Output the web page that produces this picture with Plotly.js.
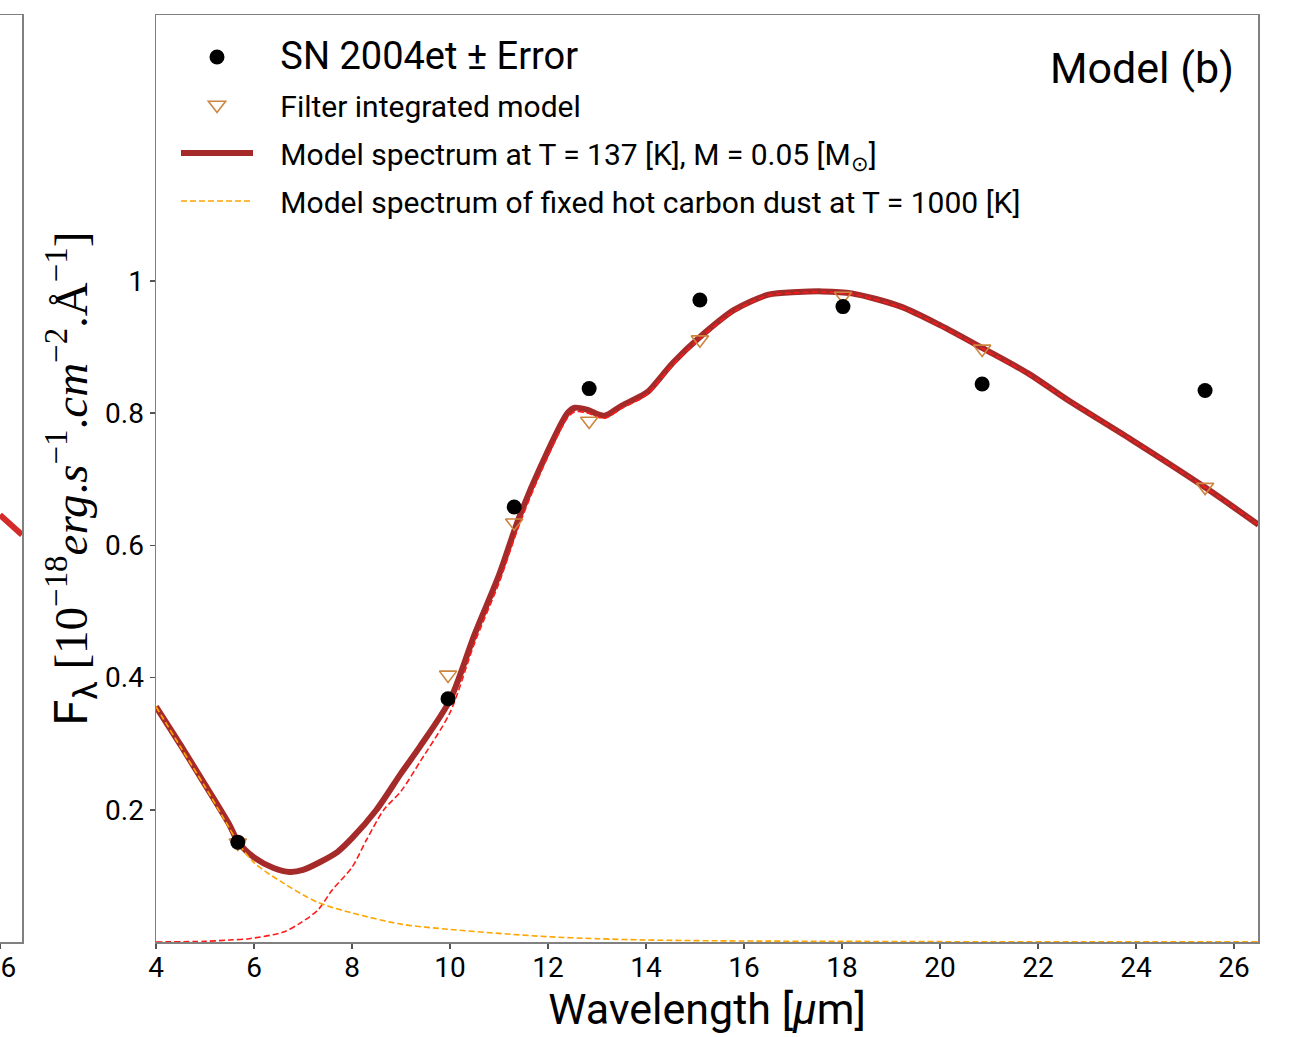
<!DOCTYPE html>
<html><head><meta charset="utf-8">
<script src="https://cdn.plot.ly/plotly-3.0.1.min.js"></script>
<style>html,body{margin:0;padding:0;background:#fff}</style>
</head><body><div id="plot" style="width:1292px;height:1037px"></div>
<script>
// Observations (SN 2004et) and filter-integrated model
const obsWavelength = [5.67, 9.96, 11.31, 12.84, 15.10, 18.02, 20.86, 25.41];
const obsFlux       = [0.151, 0.368, 0.658, 0.837, 0.971, 0.961, 0.844, 0.834];
const filterFlux    = [0.150, 0.404, 0.634, 0.788, 0.911, 0.977, 0.897, 0.688];

// Total model spectrum
const modelWavelength = [4.0, 4.5, 5.0, 5.5, 5.67, 6.0, 6.4, 6.73, 7.0, 7.35, 7.7, 8.0, 8.5, 9.0, 9.4, 10.0, 10.5, 11.0, 11.4, 11.85, 12.4, 12.55, 12.8, 13.15, 13.5, 13.9, 14.05, 14.55, 15.1, 15.8, 16.5, 17.1, 17.6, 18.2, 19.2, 20.0, 20.9, 21.8, 22.6, 23.9, 25.4, 26.5];
const modelFlux       = [0.356, 0.298, 0.238, 0.177, 0.152, 0.128, 0.112, 0.106, 0.109, 0.121, 0.136, 0.157, 0.200, 0.255, 0.297, 0.366, 0.465, 0.555, 0.640, 0.719, 0.800, 0.808, 0.805, 0.796, 0.811, 0.826, 0.833, 0.876, 0.915, 0.956, 0.979, 0.983, 0.984, 0.981, 0.961, 0.933, 0.897, 0.860, 0.820, 0.760, 0.688, 0.631];

// Hot carbon dust component (T = 1000 K)
const hotWavelength = [4.0, 4.5, 5.0, 5.5, 5.67, 6.0, 6.6, 7.3, 8.0, 9.0, 10.0, 11.0, 12.0, 13.0, 14.0, 16.0, 18.0, 20.0, 23.0, 26.5];
const hotFlux       = [0.356, 0.295, 0.235, 0.172, 0.150, 0.120, 0.089, 0.060, 0.044, 0.027, 0.019, 0.013, 0.008, 0.005, 0.003, 0.0015, 0.001, 0.0005, 0.0003, 0.0002];

// Cold dust component
const coldWavelength = [4.0, 5.0, 5.5, 5.9, 6.6, 6.95, 7.3, 7.6, 8.0, 8.3, 8.65, 9.0, 9.4, 10.0, 10.5, 11.0, 11.4, 11.85, 12.4, 12.55, 12.8, 13.15, 13.5, 13.9, 14.05, 14.55, 15.1, 15.8, 16.5, 17.1, 17.6, 18.2, 19.2, 20.0, 20.9, 21.8, 22.6, 23.9, 25.4, 26.5];
const coldFlux       = [0.0, 0.001, 0.003, 0.005, 0.015, 0.029, 0.048, 0.079, 0.113, 0.155, 0.200, 0.228, 0.274, 0.347, 0.452, 0.543, 0.628, 0.710, 0.793, 0.802, 0.800, 0.792, 0.807, 0.822, 0.830, 0.873, 0.913, 0.954, 0.978, 0.982, 0.983, 0.980, 0.960, 0.932, 0.896, 0.859, 0.820, 0.760, 0.688, 0.631];

// Neighbouring panel (a), right edge only
const panelAWavelength = [25.99, 26.44];
const panelAFlux       = [0.646, 0.616];

const xTickVals = [4, 6, 8, 10, 12, 14, 16, 18, 20, 22, 24, 26];
const yTickVals = [0.2, 0.4, 0.6, 0.8, 1];
const yTickText = ['0.2', '0.4', '0.6', '0.8', '1'];

const SANS = 'Roboto, "Liberation Sans", sans-serif';
const PAD = '&nbsp;&nbsp;&nbsp;';

const traces = [
  {x: modelWavelength, y: modelFlux, mode: 'lines', type: 'scatter',
   name: PAD + 'Model spectrum at T = 137 [K], M = 0.05 [M<sub>⊙</sub>]',
   line: {color: '#a52a2a', width: 6, shape: 'spline', smoothing: 0.8}, legendrank: 3, legendgroup: 'c'},
  {x: coldWavelength, y: coldFlux, mode: 'lines', type: 'scatter', showlegend: false,
   line: {color: '#ff1a1a', width: 1.6, dash: '6px,3px', shape: 'spline', smoothing: 0.8}},
  {x: hotWavelength, y: hotFlux, mode: 'lines', type: 'scatter',
   name: PAD + 'Model spectrum of fixed hot carbon dust at T = 1000 [K]',
   line: {color: '#ffa500', width: 1.6, dash: '6px,3px', shape: 'spline', smoothing: 0.8}, legendrank: 4, legendgroup: 'd'},
  {x: obsWavelength, y: filterFlux, mode: 'markers', type: 'scatter',
   name: PAD + 'Filter integrated model',
   marker: {symbol: 'triangle-down-open', size: 15, color: '#cd853f', line: {width: 1.6, color: '#cd853f'}},
   legendrank: 2, legendgroup: 'b'},
  {x: obsWavelength, y: obsFlux, mode: 'markers', type: 'scatter',
   name: PAD + '<span style="font-size:38px">SN 2004et ± Error</span>',
   marker: {symbol: 'circle', size: 15, color: '#000'}, legendrank: 1, legendgroup: 'a'},
  {x: panelAWavelength, y: panelAFlux, mode: 'lines', type: 'scatter', showlegend: false,
   xaxis: 'x2', yaxis: 'y2', line: {color: '#d42a2a', width: 6}}
];

const axisCommon = {
  showline: true, mirror: true, linecolor: '#808080', linewidth: 1.5,
  ticks: 'outside', ticklen: 5, tickwidth: 1.5, tickcolor: '#555',
  showgrid: false, zeroline: false, ticklabeloverflow: 'allow',
  tickfont: {family: SANS, size: 28, color: '#000'}
};

const layout = {
  width: 1292, height: 1037,
  margin: {l: 0, r: 0, t: 0, b: 0},
  paper_bgcolor: '#fff', plot_bgcolor: '#fff',
  showlegend: true,
  xaxis: Object.assign({}, axisCommon, {
    domain: [156/1292, 1258/1292], range: [4, 26.49],
    tickvals: xTickVals, ticklabelstandoff: -5,
    title: {text: 'Wavelength [<i>μ</i>m]', font: {family: SANS, size: 43, color: '#000'}, standoff: 0}
  }),
  yaxis: Object.assign({}, axisCommon, {
    domain: [95/1037, 1022/1037], range: [0, 1.402],
    tickvals: yTickVals, ticktext: yTickText,
    title: {text: 'F<sub>λ</sub> <span style="font-family:\'Liberation Serif\'">[10<sup>−18</sup><i>erg</i>.<i>s</i><sup>−1</sup>.<i>cm</i><sup>−2</sup>.Å<sup>−1</sup>]</span>',
            font: {family: SANS, size: 47, color: '#000'}, standoff: 2}
  }),
  xaxis2: Object.assign({}, axisCommon, {
    domain: [0, 22/1292], range: [25.99, 26.44], anchor: 'y2',
    tickvals: [26], ticklabelstandoff: -5
  }),
  yaxis2: Object.assign({}, axisCommon, {
    domain: [95/1037, 1022/1037], range: [0, 1.402], anchor: 'x2',
    showticklabels: false, ticks: ''
  }),
  legend: {
    x: 176/1292, xanchor: 'left', y: (1037 - 31)/1037, yanchor: 'top',
    bgcolor: 'rgba(0,0,0,0)', borderwidth: 0,
    font: {family: SANS, size: 30, color: '#000'},
    traceorder: 'grouped', tracegroupgap: 6, itemwidth: 72
  },
  annotations: [{
    text: 'Model (b)', xref: 'paper', yref: 'paper',
    x: 1236/1292, xanchor: 'right', y: (1037 - 68)/1037, yanchor: 'middle',
    showarrow: false, font: {family: SANS, size: 43, color: '#000'}
  }]
};

Plotly.newPlot('plot', traces, layout, {displayModeBar: false, staticPlot: true});
</script></body></html>
